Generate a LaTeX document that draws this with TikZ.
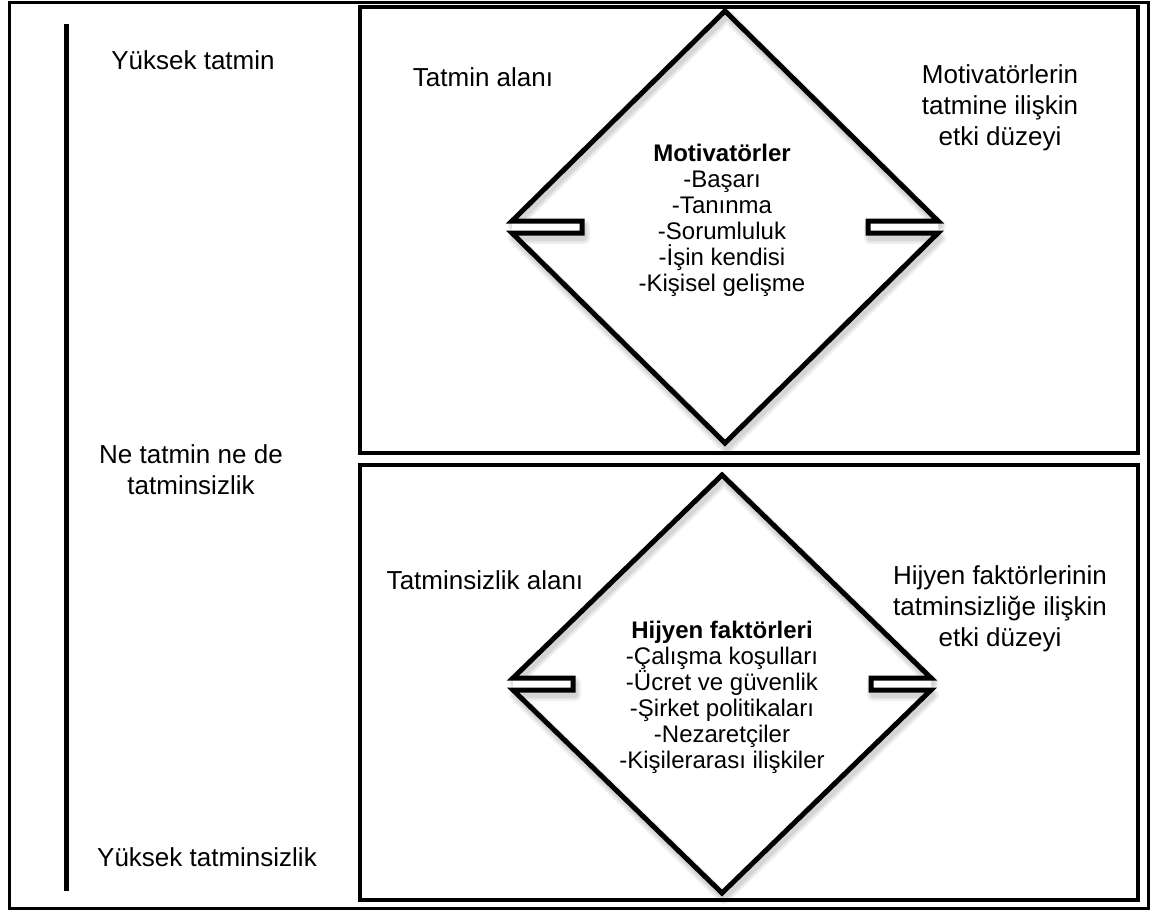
\documentclass[tikz,border=0pt]{standalone}
\usepackage{fontspec}
\setmainfont{Liberation Sans}
\begin{document}
\begin{tikzpicture}[
		x=1pt, y=-1pt,
		frame/.style={draw, line width=3pt},
		edge/.style={draw, line width=5pt, line join=miter},
		shade/.style={draw=black, opacity=0.06, line width=#1, line join=round},
		slot/.style={fill=white},
		label/.style={font=\fontsize{26}{31}\selectfont, align=center},
		list/.style={font=\fontsize{24}{26}\selectfont, align=center, fill=white, inner sep=1pt}
		]
		
		\useasboundingbox (0,0) rectangle (1152,911);
		
		% outer frame and the two areas
		\draw[frame] (9,2) rectangle (1148,908);
		\draw[frame, line width=3.5pt] (360,7) rectangle (1138,453);
		\draw[frame, line width=3.5pt] (360,465) rectangle (1138,900);
		
		% scale on the left
		\draw[line width=5pt] (66,24) -- (66,891);
		\node[label] (hiSat) at (193,60) {Yüksek tatmin};
		\node[label] (neutral) at (191,470) {Ne tatmin ne de\\tatminsizlik};
		\node[label] (hiDis) at (207,857) {Yüksek tatminsizlik};
		
		% upper diamond
		\begin{scope}[shift={(725,227)}]
			\foreach \w in {12,8,5}
			\draw[shade=\w pt] (2,-211) -- (215,-1) -- (145,-1) -- (145,11) -- (215,11) -- (2,221) -- (-211,11) -- (-141,11) -- (-141,-1) -- (-211,-1) -- cycle;
			\fill[slot] (-213,-6) rectangle (-143,6);
			\fill[slot] (213,-6) rectangle (143,6);
			\draw[edge] (0,-216) -- (213,-6) -- (143,-6) -- (143,6) -- (213,6) -- (0,216) -- (-213,6) -- (-143,6) -- (-143,-6) -- (-213,-6) -- cycle;
		\end{scope}
		\node[list] (motList) at (722,220) {\textbf{Motivatörler}\\-Başarı\\-Tanınma\\-Sorumluluk\\-İşin kendisi\\-Kişisel gelişme};
		\node[label] (satArea) at (483,77) {Tatmin alanı};
		\node[label] (motLevel) at (1000,108) {Motivatörlerin\\tatmine ilişkin\\etki düzeyi};
		
		% lower diamond
		\begin{scope}[shift={(722,684)}]
			\foreach \w in {12,8,5}
			\draw[shade=\w pt] (2,-204) -- (211,-1) -- (151,-1) -- (151,11) -- (211,11) -- (2,214) -- (-207,11) -- (-147,11) -- (-147,-1) -- (-207,-1) -- cycle;
			\fill[slot] (-209,-6) rectangle (-149,6);
			\fill[slot] (209,-6) rectangle (149,6);
			\draw[edge] (0,-209) -- (209,-6) -- (149,-6) -- (149,6) -- (209,6) -- (0,209) -- (-209,6) -- (-149,6) -- (-149,-6) -- (-209,-6) -- cycle;
		\end{scope}
		\node[list] (hygList) at (722,697) {\textbf{Hijyen faktörleri}\\-Çalışma koşulları\\-Ücret ve güvenlik\\-Şirket politikaları\\-Nezaretçiler\\-Kişilerarası ilişkiler};
		\node[label] (disArea) at (485,580) {Tatminsizlik alanı};
		\node[label] (hygLevel) at (1000,609) {Hijyen faktörlerinin\\tatminsizliğe ilişkin\\etki düzeyi};
		
	\end{tikzpicture}
\end{document}
